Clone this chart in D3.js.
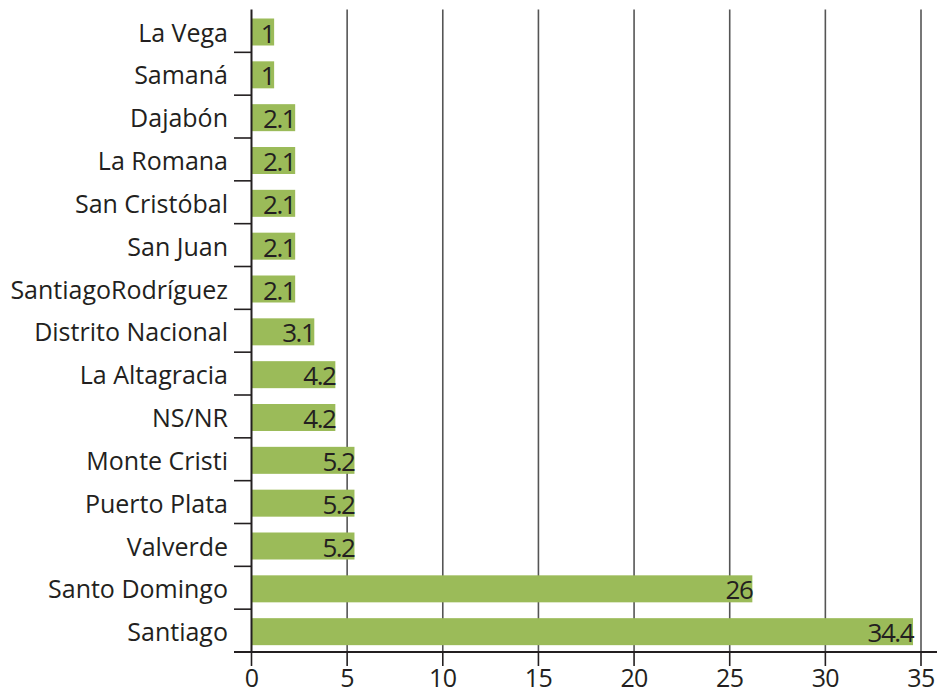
<!DOCTYPE html>
<html>
<head>
<meta charset="utf-8">
<script src="https://cdn.jsdelivr.net/npm/d3@7"></script>
<style>
  body { margin: 0; background: white; }
  text { font-family: "Open Sans", "Noto Sans", sans-serif; }
</style>
</head>
<body>
<div id="chart"></div>
<script>
const provinces = [
  "La Vega", "Samaná", "Dajabón", "La Romana", "San Cristóbal", "San Juan",
  "SantiagoRodríguez", "Distrito Nacional", "La Altagracia", "NS/NR",
  "Monte Cristi", "Puerto Plata", "Valverde", "Santo Domingo", "Santiago"
];
const values = [1, 1, 2.1, 2.1, 2.1, 2.1, 2.1, 3.1, 4.2, 4.2, 5.2, 5.2, 5.2, 26, 34.4];
const xTicks = [0, 5, 10, 15, 20, 25, 30, 35];

const data = provinces.map((p, i) => ({ name: p, value: values[i] }));

const dimensions = { width: 937, height: 694, left: 251.5, right: 921, top: 9.5, bottom: 652 };

const svg = d3.select("#chart")
  .append("svg")
  .attr("width", dimensions.width)
  .attr("height", dimensions.height);

const x = d3.scaleLinear().domain([0, 35]).range([dimensions.left, dimensions.right]);
const y = d3.scaleBand().domain(provinces).range([dimensions.top, dimensions.bottom]);
const barH = 27;
const barOff = 9;
const barExtra = 3.5; // bars run a little past their value in the original

// gridlines
svg.append("g")
  .selectAll("line")
  .data(xTicks.slice(1))
  .enter()
  .append("line")
  .attr("x1", (d) => x(d))
  .attr("x2", (d) => x(d))
  .attr("y1", dimensions.top)
  .attr("y2", dimensions.bottom)
  .attr("stroke", "#555")
  .attr("stroke-width", 1.6);

// bars
svg.append("g")
  .selectAll("rect")
  .data(data)
  .enter()
  .append("rect")
  .attr("x", x(0))
  .attr("y", (d) => y(d.name) + barOff)
  .attr("width", (d) => x(d.value) - x(0) + barExtra)
  .attr("height", barH)
  .attr("fill", "#9bbb59");

// value labels
svg.append("g")
  .selectAll("text")
  .data(data)
  .enter()
  .append("text")
  .attr("x", (d) => x(d.value) + barExtra)
  .attr("y", (d) => y(d.name) + barOff + barH - 3)
  .attr("text-anchor", "end")
  .attr("font-size", 26)
  .attr("letter-spacing", -1.5)
  .attr("fill", "#231f20")
  .text((d) => d.value);

// y axis
svg.append("line")
  .attr("x1", x(0)).attr("x2", x(0))
  .attr("y1", dimensions.top).attr("y2", dimensions.bottom)
  .attr("stroke", "#231f20").attr("stroke-width", 2);

svg.append("g")
  .selectAll("line")
  .data(provinces.slice(1))
  .enter()
  .append("line")
  .attr("x1", 234).attr("x2", x(0))
  .attr("y1", (d) => y(d)).attr("y2", (d) => y(d))
  .attr("stroke", "#231f20").attr("stroke-width", 1.6);

svg.append("g")
  .selectAll("text")
  .data(provinces)
  .enter()
  .append("text")
  .attr("x", 228)
  .attr("y", (d) => y(d) + barOff + barH - 4)
  .attr("text-anchor", "end")
  .attr("font-size", 25)
  .attr("fill", "#231f20")
  .text((d) => d);

// x axis
svg.append("line")
  .attr("x1", 234).attr("x2", dimensions.width)
  .attr("y1", dimensions.bottom).attr("y2", dimensions.bottom)
  .attr("stroke", "#231f20").attr("stroke-width", 2);

svg.append("g")
  .selectAll("line")
  .data(xTicks)
  .enter()
  .append("line")
  .attr("x1", (d) => x(d)).attr("x2", (d) => x(d))
  .attr("y1", dimensions.bottom).attr("y2", dimensions.bottom + 14)
  .attr("stroke", "#231f20").attr("stroke-width", 1.6);

svg.append("g")
  .selectAll("text")
  .data(xTicks)
  .enter()
  .append("text")
  .attr("x", (d) => x(d))
  .attr("y", 687)
  .attr("text-anchor", "middle")
  .attr("font-size", 25)
  .attr("letter-spacing", -0.6)
  .attr("fill", "#231f20")
  .text((d) => d);
</script>
</body>
</html>
